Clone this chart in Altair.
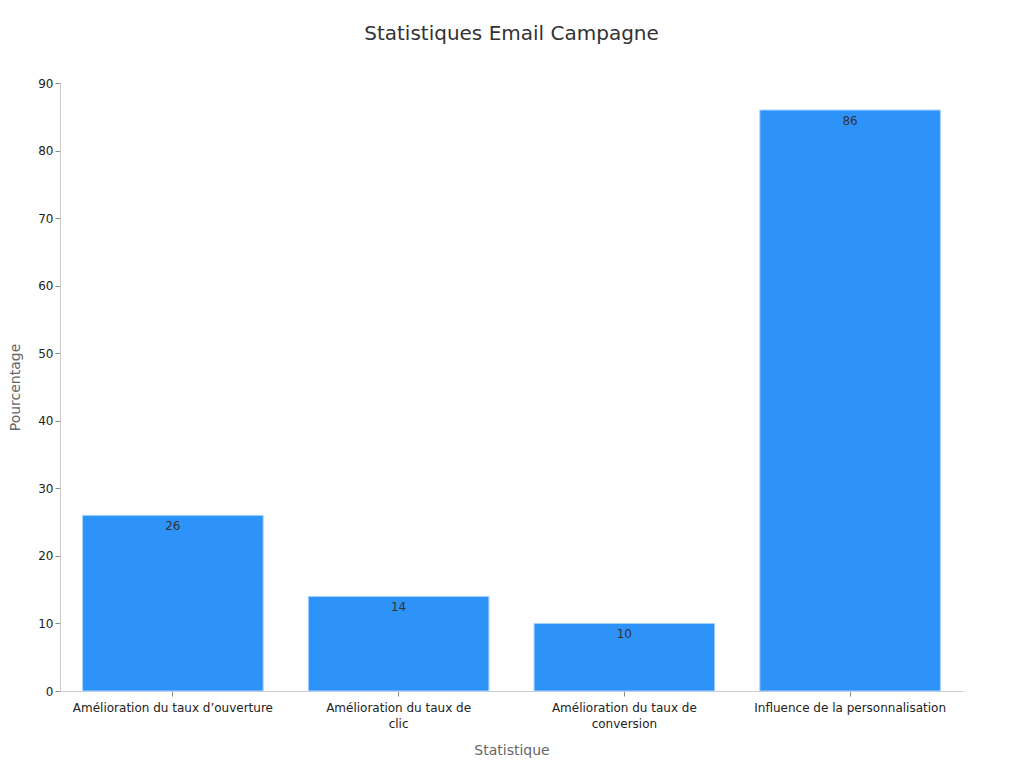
import altair as alt
import pandas as pd

categories = [
    "Amélioration du taux d’ouverture",
    "Amélioration du taux de clic",
    "Amélioration du taux de conversion",
    "Influence de la personnalisation",
]
values = [26, 14, 10, 86]
# lignes affichées sous l'axe x
label_lines = [
    ["Amélioration du taux d’ouverture"],
    ["Amélioration du taux de", "clic"],
    ["Amélioration du taux de", "conversion"],
    ["Influence de la personnalisation"],
]

df = pd.DataFrame({"statistique": categories, "pourcentage": values})

expr = "datum.label"
for cat, lines in zip(categories, label_lines):
    arr = "[" + ", ".join("'" + l + "'" for l in lines) + "]"
    expr = f"datum.label == '{cat}' ? {arr} : ({expr})"

base = alt.Chart(df).encode(
    x=alt.X("statistique:N", sort=categories, title="Statistique",
            scale=alt.Scale(paddingInner=0.2, paddingOuter=0.1),
            axis=alt.Axis(labelAngle=0, labelExpr=expr, labelFontSize=12, labelLimit=0,
                          labelLineHeight=16, labelPadding=6,
                          labelColor="#222", titleFontSize=14, titleColor="#666",
                          titleFontWeight="normal", titlePadding=14,
                          domainColor="#ccc", tickColor="#888")),
    y=alt.Y("pourcentage:Q", title="Pourcentage",
            scale=alt.Scale(domain=[0, 90]),
            axis=alt.Axis(values=list(range(0, 91, 10)), grid=False, labelFontSize=12,
                          labelColor="#222", titleFontSize=14, titleColor="#666",
                          titleFontWeight="normal", titleX=-45, titleBaseline="middle",
                          domainColor="#ccc", tickColor="#888")),
)

bars = base.mark_bar(color="#2e93f9", stroke="#a8d3ff", strokeWidth=1)
text = base.mark_text(baseline="top", dy=6, fontSize=12, color="#333").encode(
    text="pourcentage:Q"
)

chart = (
    (bars + text)
    .properties(
        width=903,
        height=608,
        autosize=alt.AutoSizeParams(type="none"),
        padding={"left": 52, "top": 75, "right": 50, "bottom": 69},
        title=alt.TitleParams("Statistiques Email Campagne", fontSize=20,
                              fontWeight="normal", color="#333", offset=33),
    )
    .configure(font="DejaVu Sans")
    .configure_view(stroke=None)
)

chart.save("out.html", embed_options={"renderer": "svg", "actions": False})
